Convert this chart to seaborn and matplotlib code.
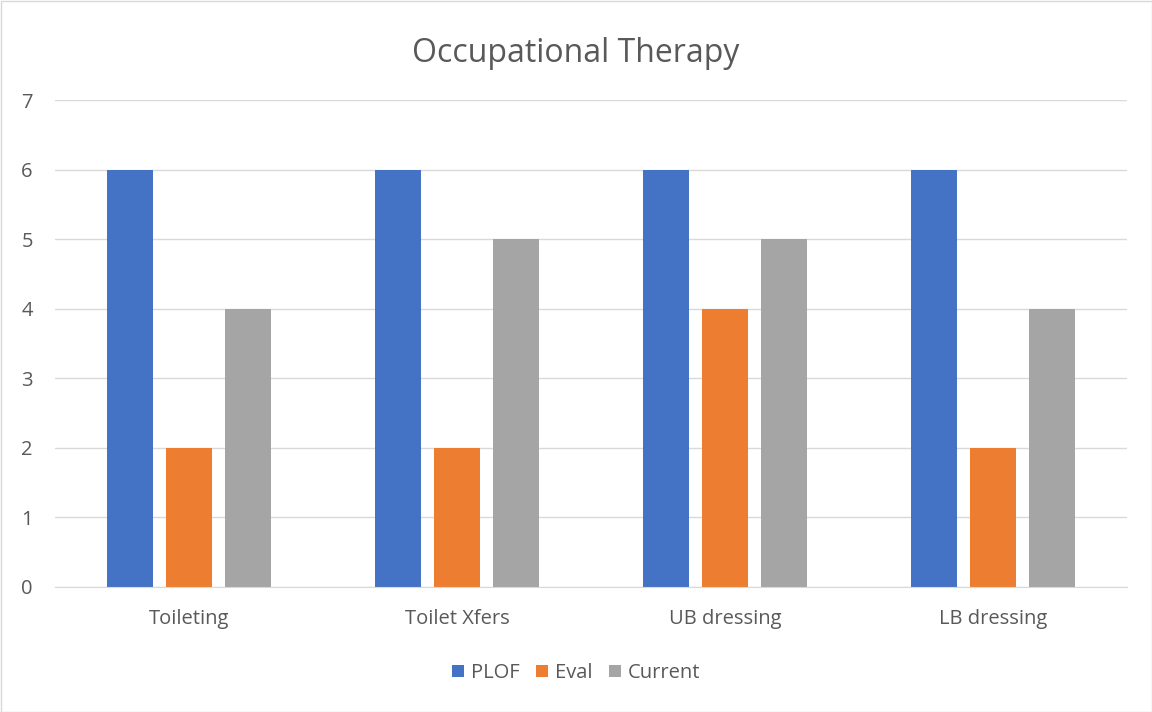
import matplotlib
matplotlib.use("Agg")
import matplotlib.pyplot as plt
import seaborn as sns
import pandas as pd
from matplotlib.patches import Rectangle

categories = ["Toileting", "Toilet Xfers", "UB dressing", "LB dressing"]
series = ["PLOF", "Eval", "Current"]
plof = [6, 6, 6, 6]
eval_ = [2, 2, 4, 2]
current = [4, 5, 5, 4]
colors = ["#4472C4", "#ED7D31", "#A5A5A5"]

rows = []
for name, vals in zip(series, [plof, eval_, current]):
    for c, v in zip(categories, vals):
        rows.append({"cat": c, "series": name, "value": v})
df = pd.DataFrame(rows)

sns.set_style("white")
plt.rcParams["font.family"] = ["Open Sans", "DejaVu Sans"]
txt = "#595959"

fig = plt.figure(figsize=(11.52, 7.12), dpi=100)
ax = fig.add_axes([55/1152, 1-587/712, (1127-55)/1152, (587-100)/712])
sns.barplot(data=df, x="cat", y="value", hue="series", palette=colors,
            width=0.66, gap=0.22, ax=ax, saturation=1, legend=True,
            order=categories, hue_order=series, linewidth=0, edgecolor="none")
ax.set_ylim(0, 7)
ax.set_yticks(range(0, 8))
ax.yaxis.grid(True, color="#D9D9D9", linewidth=1)
ax.set_axisbelow(True)
for s in ["top", "right", "left"]:
    ax.spines[s].set_visible(False)
ax.spines["bottom"].set_color("#D9D9D9")
ax.set_xlabel("")
ax.set_ylabel("")
ax.tick_params(axis="both", length=0, labelsize=14.5, colors=txt)
ax.tick_params(axis="x", pad=16)
ax.tick_params(axis="y", pad=16)
ax.set_xlim(-0.5, 3.5)
fig.text(0.5, 1-53/712, "Occupational Therapy", fontsize=23, color=txt,
         ha="center", va="center")

h, l = ax.get_legend_handles_labels()
ax.get_legend().remove()
fig.legend(h, l, loc="center", bbox_to_anchor=(0.5, 1-673/712), ncol=3,
           frameon=False, fontsize=14.5, labelcolor=txt, handlelength=0.6,
           handleheight=0.6, handletextpad=0.35, columnspacing=0.8)

fig.patches.append(Rectangle((0.5/1152, 0.5/712), 1-1/1152, 1-1/712,
                             transform=fig.transFigure, fill=False,
                             edgecolor="#D9D9D9", linewidth=1))
fig.savefig("out.png", dpi=100)
